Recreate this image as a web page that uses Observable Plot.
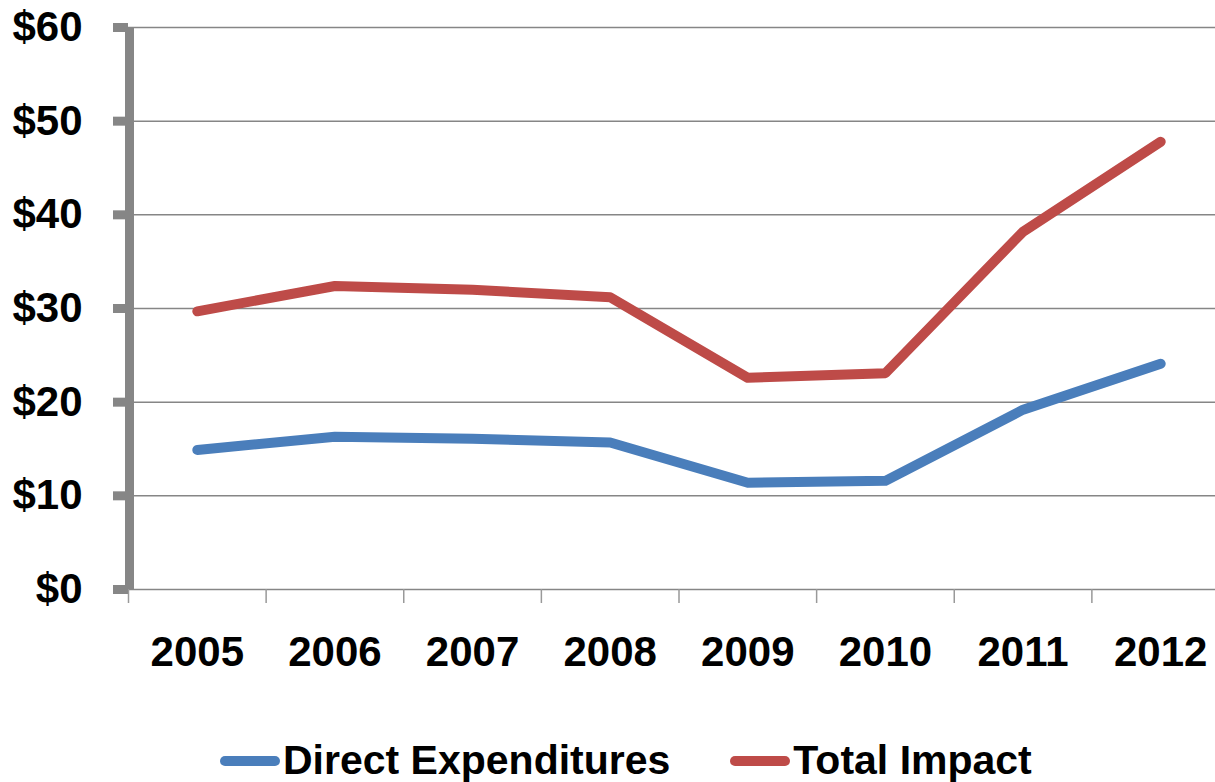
<!DOCTYPE html>
<html>
<head>
<meta charset="utf-8">
<script src="https://cdn.jsdelivr.net/npm/d3@7"></script>
<script src="https://cdn.jsdelivr.net/npm/@observablehq/plot@0.6"></script>
<style>
  html, body { margin: 0; padding: 0; background: white; }
  body { width: 1215px; height: 782px; overflow: hidden; font-family: "Liberation Sans", Arial, sans-serif; }
  #legend { display: flex; align-items: center; margin-top: 20px; padding-left: 220px; height: 41px; font-weight: bold; font-size: 41px; color: #000; }
  .sw { width: 60px; height: 10px; border-radius: 5px; margin-right: 3px; }
  .item { display: flex; align-items: center; }
</style>
</head>
<body>
<div id="chart"></div>
<div id="legend"></div>
<script>
const years = [2005, 2006, 2007, 2008, 2009, 2010, 2011, 2012];
const directExpenditures = [14.9, 16.3, 16.1, 15.7, 11.4, 11.6, 19.2, 24.1];
const totalImpact = [29.7, 32.4, 32.0, 31.2, 22.6, 23.1, 38.2, 47.8];
const seriesNames = ["Direct Expenditures", "Total Impact"];
const seriesColors = ["#4A7EBB", "#BE4B48"];
const yTicks = [0, 10, 20, 30, 40, 50, 60];

const rows = [];
years.forEach((yr, i) => {
  rows.push({year: yr, value: directExpenditures[i], series: seriesNames[0]});
  rows.push({year: yr, value: totalImpact[i], series: seriesNames[1]});
});
const boundaries = years.map(y => y - 0.5).concat([years[years.length - 1] + 0.5]);

const font = "'Liberation Sans', Arial, sans-serif";

const chart = Plot.plot({
  width: 1215,
  height: 720,
  marginTop: 27,
  marginBottom: 131,
  marginLeft: 128,
  marginRight: 0,
  style: {fontFamily: font, background: "white"},
  x: {type: "linear", domain: [boundaries[0], boundaries[boundaries.length - 1]], range: [128, 1229]},
  y: {domain: [0, 60], range: [589, 27]},
  color: {domain: seriesNames, range: seriesColors},
  marks: [
    Plot.ruleY(yTicks, {stroke: "#868686", strokeWidth: 1.5}),
    Plot.axisX(boundaries, {tickSize: 14, stroke: "#999999", strokeWidth: 1.5, tickFormat: () => "", label: null}),
    Plot.axisX(years, {tickSize: 0, tickPadding: 47, tickFormat: d => String(d), fontSize: 42, fontWeight: "bold", fill: "black", label: null}),
    Plot.axisY(yTicks, {tickSize: 15, tickPadding: 31, strokeWidth: 9, stroke: "#868686", tickFormat: d => "$" + d, fontSize: 42, fontWeight: "bold", fill: "black", label: null}),
    Plot.ruleX([boundaries[0]], {y1: 0, y2: 60, stroke: "#868686", strokeWidth: 9, dx: 1}),
    Plot.line(rows, {x: "year", y: "value", stroke: "series", z: "series", strokeWidth: 10, strokeLinecap: "round", strokeLinejoin: "round", curve: "linear"})
  ]
});
document.getElementById("chart").appendChild(chart);

const legend = document.getElementById("legend");
seriesNames.forEach((name, i) => {
  const item = document.createElement("div");
  item.className = "item";
  if (i > 0) item.style.marginLeft = "60px";
  const sw = document.createElement("div");
  sw.className = "sw";
  sw.style.background = seriesColors[i];
  const t = document.createElement("span");
  t.textContent = name;
  item.appendChild(sw);
  item.appendChild(t);
  legend.appendChild(item);
});
</script>
</body>
</html>
